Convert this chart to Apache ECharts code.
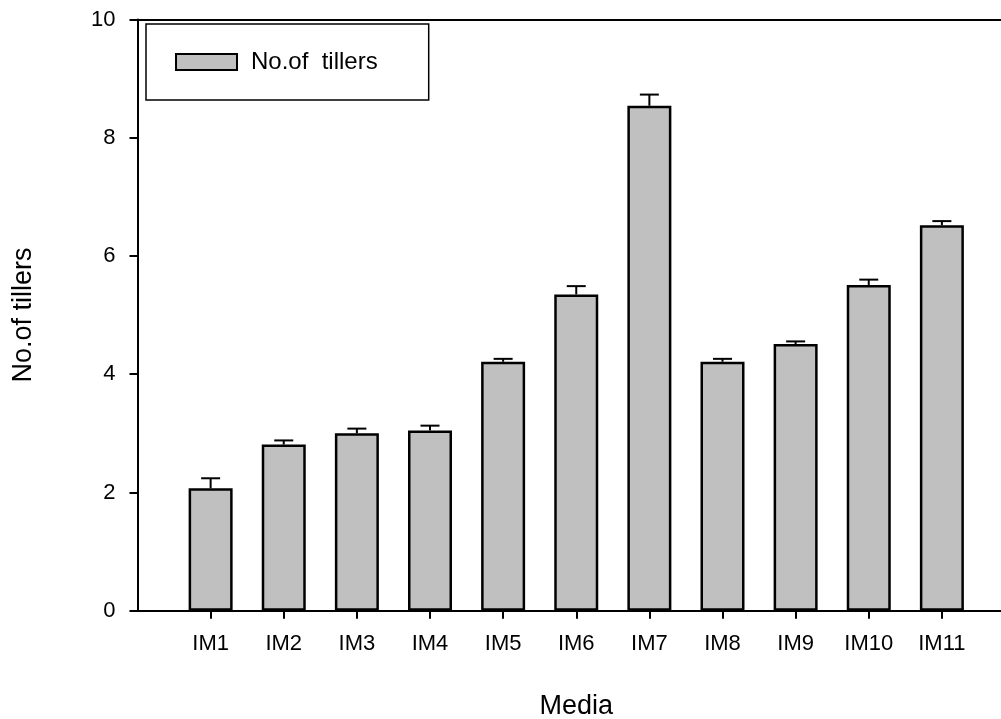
<!DOCTYPE html>
<html>
<head>
<meta charset="utf-8">
<script src="https://cdn.jsdelivr.net/npm/echarts@6/dist/echarts.min.js"></script>
<style>html,body{margin:0;padding:0;background:#fff;}#chart{width:1001px;height:719px;}</style>
</head>
<body>
<div id="chart"></div>
<script>
const categories = ['IM1','IM2','IM3','IM4','IM5','IM6','IM7','IM8','IM9','IM10','IM11'];
const tillers = [2.07, 2.81, 3.00, 3.05, 4.21, 5.35, 8.54, 4.21, 4.51, 5.51, 6.52];
const tillerErrors = [0.17, 0.07, 0.08, 0.08, 0.05, 0.14, 0.19, 0.05, 0.045, 0.09, 0.07];
const yTicks = [0, 2, 4, 6, 8, 10];
const seriesName = 'No.of tillers';
const legendLabel = 'No.of  tillers';
const xTitle = 'Media';
const yTitle = 'No.of tillers';

const FONT = 'Liberation Sans';
const axisData = [''].concat(categories, ['']);

const chart = echarts.init(document.getElementById('chart'), null, {renderer: 'canvas'});
chart.setOption({
  backgroundColor: '#fff',
  animation: false,
  textStyle: {fontFamily: FONT, color: '#000'},
  grid: {left: 137.5, right: -14, top: 19.5, bottom: 108.3, containLabel: false, outerBoundsMode: 'none'},
  legend: {
    data: [seriesName],
    formatter: function () { return legendLabel; },
    left: 146, top: 24,
    orient: 'horizontal',
    borderColor: '#000', borderWidth: 1.5,
    padding: [26, 51, 26, 29],
    itemWidth: 61, itemHeight: 16,
    icon: 'rect',
    itemStyle: {color: '#c0c0c0', borderColor: '#000', borderWidth: 2},
    textStyle: {fontFamily: FONT, fontSize: 24, color: '#000', padding: [0, 0, 0, 9]}
  },
  xAxis: [{
    type: 'category',
    data: axisData,
    boundaryGap: false,
    name: xTitle,
    nameLocation: 'middle',
    nameGap: 82,
    nameTextStyle: {fontFamily: FONT, fontSize: 27, color: '#000'},
    axisLine: {show: true, lineStyle: {color: '#000', width: 2}},
    axisTick: {show: true, inside: false, length: 8, lineStyle: {color: '#000', width: 2},
      interval: function (idx) { return idx >= 1 && idx <= categories.length; }},
    axisLabel: {interval: 0, margin: 22, fontFamily: FONT, fontSize: 22, color: '#000'},
    splitLine: {show: false}
  }, {
    type: 'category',
    data: axisData,
    boundaryGap: false,
    position: 'top',
    axisLine: {show: true, lineStyle: {color: '#000', width: 2}},
    axisTick: {show: false},
    axisLabel: {show: false},
    splitLine: {show: false}
  }],
  yAxis: {
    type: 'value',
    min: yTicks[0], max: yTicks[yTicks.length - 1], interval: 2,
    name: yTitle,
    nameLocation: 'middle',
    nameGap: 100,
    nameRotate: 90,
    nameTextStyle: {fontFamily: FONT, fontSize: 27, color: '#000'},
    axisLine: {show: true, lineStyle: {color: '#000', width: 2}},
    axisTick: {show: true, inside: false, length: 8, lineStyle: {color: '#000', width: 2}},
    axisLabel: {margin: 22, fontFamily: FONT, fontSize: 22, color: '#000'},
    splitLine: {show: false}
  },
  series: [{
    name: seriesName,
    type: 'bar',
    barWidth: 44,
    data: categories.map((c, i) => [c, tillers[i]]),
    itemStyle: {color: '#c0c0c0', borderColor: '#000', borderWidth: 2.5},
    z: 2
  }, {
    name: 'error',
    type: 'custom',
    data: categories.map((c, i) => [c, tillers[i], tillerErrors[i]]),
    encode: {x: 0, y: 1},
    z: 3,
    renderItem: function (params, api) {
      const x = api.value(0), v = api.value(1), e = api.value(2);
      const base = api.coord([x, v]);
      const top = api.coord([x, v + e]);
      const hw = 9.5;
      return {
        type: 'group',
        children: [
          {type: 'line', shape: {x1: base[0], y1: base[1], x2: top[0], y2: top[1]}, style: {stroke: '#000', lineWidth: 2}},
          {type: 'line', shape: {x1: top[0] - hw, y1: top[1], x2: top[0] + hw, y2: top[1]}, style: {stroke: '#000', lineWidth: 2}}
        ]
      };
    }
  }]
});
</script>
</body>
</html>
